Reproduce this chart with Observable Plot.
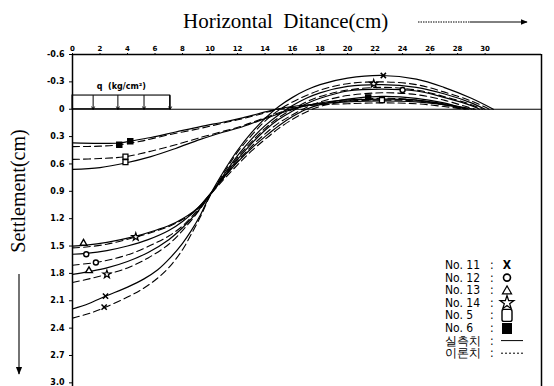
<!DOCTYPE html>
<html><head><meta charset="utf-8">
<script src="https://cdn.jsdelivr.net/npm/d3@7"></script>
<script src="https://cdn.jsdelivr.net/npm/@observablehq/plot@0.6"></script>
<style>body{margin:0;background:#fff}</style>
</head><body><div id="chart"></div>
<script>
// ---- data (cm) ----
const xTicks = [0,2,4,6,8,10,12,14,16,18,20,22,24,26,28,30];
const yTicks = [-0.6,-0.3,0,0.3,0.6,0.9,1.2,1.5,1.8,2.1,2.4,2.7,3.0];
const xMax = 34.1;

const no11M = [[0,2.19],[1.2,2.13],[2.4,2.05],[4,1.95],[5.2,1.86],[6.2,1.76],[7.1,1.63],[8,1.47],[8.6,1.34],[9.3,1.16],[10,0.94],[11,0.68],[12,0.45],[13,0.26],[14,0.1],[15,-0.03],[16,-0.13],[17,-0.21],[18,-0.27],[20,-0.34],[22.5,-0.37],[25,-0.33],[27,-0.24],[29,-0.12],[30.6,0]];
const no11T = [[0,2.29],[1.2,2.24],[2.4,2.17],[4,2.06],[5.2,1.96],[6.2,1.85],[7.1,1.72],[8,1.54],[8.6,1.38],[9.3,1.18],[10,0.95],[11,0.70],[12,0.47],[13,0.29],[14,0.13],[15,0.01],[16,-0.08],[17,-0.15],[18,-0.21],[20,-0.28],[22.5,-0.30],[25,-0.27],[27,-0.19],[29,-0.09],[30.3,0]];
const no14M = [[0,1.81],[1.2,1.78],[2.5,1.74],[4,1.67],[5.5,1.57],[7,1.43],[8,1.3],[9,1.14],[10,0.94],[11,0.72],[12,0.51],[13,0.33],[14,0.18],[15,0.06],[16,-0.04],[17,-0.12],[18,-0.18],[20,-0.25],[22.5,-0.27],[25,-0.24],[27,-0.17],[29,-0.07],[30,0]];
const no14T = [[0,1.90],[1.2,1.86],[2.5,1.81],[4,1.74],[5.5,1.63],[7,1.48],[8,1.33],[9,1.15],[10,0.94],[11,0.73],[12,0.53],[13,0.36],[14,0.21],[15,0.09],[16,0],[17,-0.08],[18,-0.14],[20,-0.21],[22.5,-0.24],[25,-0.21],[27,-0.14],[29,-0.05],[29.8,0]];
const no12M = [[0,1.59],[1,1.58],[2.5,1.55],[4,1.5],[5.5,1.43],[7,1.33],[8,1.23],[9,1.1],[10,0.93],[11,0.74],[12,0.55],[13,0.38],[14,0.23],[15,0.11],[16,0.02],[17,-0.06],[18,-0.12],[20,-0.2],[22.5,-0.22],[25,-0.2],[27,-0.13],[29,-0.04],[29.6,0]];
const no12T = [[0,1.71],[1.7,1.68],[3,1.64],[4.5,1.57],[6,1.47],[7,1.39],[8,1.28],[9,1.12],[10,0.94],[11,0.75],[12,0.57],[13,0.41],[14,0.27],[15,0.15],[16,0.06],[17,-0.02],[18,-0.08],[20,-0.15],[22.5,-0.18],[25,-0.16],[27,-0.1],[28.8,-0.02],[29.3,0]];
const no13M = [[0,1.50],[1,1.49],[2.5,1.46],[4.4,1.4],[6,1.33],[7.1,1.27],[8,1.2],[8.8,1.12],[9.4,1.04],[10,0.93],[11,0.75],[12,0.58],[13,0.43],[14,0.3],[15,0.18],[16,0.08],[17,0],[18,-0.05],[20,-0.11],[22.5,-0.14],[25,-0.12],[27,-0.07],[28.6,0]];
const no13T = [[0,1.52],[1,1.51],[2.5,1.48],[4.4,1.41],[6,1.34],[7.1,1.28],[8,1.21],[8.8,1.13],[9.4,1.05],[10,0.94],[11,0.77],[12,0.61],[13,0.46],[14,0.33],[15,0.21],[16,0.11],[17,0.03],[18,-0.03],[20,-0.09],[22.5,-0.12],[25,-0.1],[27,-0.05],[28.4,0]];
const no6M = [[0,0.37],[2,0.375],[3.4,0.37],[4.2,0.35],[5.7,0.31],[7.5,0.25],[9.3,0.19],[11,0.14],[12.2,0.1],[13.5,0.05],[14.8,0],[16,-0.03],[18,-0.06],[20,-0.08],[22.5,-0.09],[25,-0.08],[27,-0.05],[28.8,0]];
const no6T = [[0,0.41],[2,0.405],[3.4,0.39],[5,0.35],[7,0.28],[9.3,0.21],[11,0.15],[12.2,0.11],[13.5,0.06],[15,0],[16,-0.02],[18,-0.05],[20,-0.06],[22.5,-0.07],[25,-0.06],[27,-0.03],[28.5,0]];
const no5T = [[0,0.55],[2,0.54],[3.85,0.52],[5.7,0.46],[7.5,0.39],[9.3,0.31],[11,0.24],[12.2,0.19],[13.5,0.12],[14.8,0.05],[15.8,0],[17,-0.04],[19,-0.08],[22.5,-0.1],[25,-0.09],[27,-0.05],[29,0]];
const no5M = [[0,0.66],[2,0.64],[3.85,0.59],[5.7,0.52],[7.5,0.43],[9.3,0.33],[11,0.25],[12.2,0.2],[13.5,0.13],[14.8,0.06],[16,0],[17,-0.04],[19,-0.09],[22.5,-0.11],[25,-0.1],[27,-0.06],[29.2,0]];

const measured = [no11M,no14M,no12M,no13M,no6M,no5M];
const theory = [no11T,no14T,no12T,no13T,no6T,no5T];

const markX = [[2.4,2.05],[2.3,2.17],[22.6,-0.37]];
const markO = [[1.0,1.59],[1.7,1.68],[24,-0.21]];
const markTri = [[0.8,1.47],[1.2,1.77]];
const markStar = [[2.5,1.81],[21.9,-0.28],[4.6,1.4]];
const markOpenSq = [[3.85,0.52],[3.85,0.58],[22.5,-0.1]];
const markFillSq = [[3.4,0.39],[4.2,0.35],[21.5,-0.13]];

const loadEdges = [0,1.5,3.3,5.2,7.1];
const loadQ = 0.15;

const fmt = d => d === 0 ? "0" : d.toFixed(1);

const marks = [
  Plot.ruleY([0], {stroke:"black", strokeWidth:1.2}),
  Plot.ruleY([yTicks[0]], {stroke:"black", strokeWidth:1.5}),
  Plot.ruleX([0, xMax], {stroke:"black", strokeWidth:1.5}),
  Plot.rect([loadEdges], {x1: d=>d[0], x2: d=>d[d.length-1], y1: -loadQ, y2: 0, fill:"none", stroke:"black", strokeWidth:1.1}),
  Plot.arrow(loadEdges.slice(1), {x: d=>d, y1: -loadQ, y2: 0, stroke:"black", strokeWidth:1, headLength:4}),
  Plot.text([loadEdges], {x: d=>(d[0]+d[d.length-1])/2, y: -loadQ-0.1, text: ()=>"q  (kg/cm²)", fontSize:8, fontWeight:"bold"}),
  ...measured.map(s => Plot.line(s, {x:d=>d[0], y:d=>d[1], curve:"catmull-rom", stroke:"black", strokeWidth:1.2})),
  ...theory.map(s => Plot.line(s, {x:d=>d[0], y:d=>d[1], curve:"catmull-rom", stroke:"black", strokeWidth:1.1, strokeDasharray:"7,4"})),
  Plot.dot(markX, {x:d=>d[0], y:d=>d[1], symbol:"times", r:2.5, stroke:"black", strokeWidth:1.5}),
  Plot.dot(markO, {x:d=>d[0], y:d=>d[1], symbol:"circle", r:2.5, stroke:"black", fill:"white", strokeWidth:1.4}),
  Plot.dot(markTri, {x:d=>d[0], y:d=>d[1], symbol:"triangle", r:2.5, stroke:"black", fill:"white", strokeWidth:1.4}),
  Plot.dot(markStar, {x:d=>d[0], y:d=>d[1], symbol:"star", r:2.5, stroke:"black", fill:"white", strokeWidth:1.2}),
  Plot.dot(markOpenSq, {x:d=>d[0], y:d=>d[1], symbol:"square", r:2.8, stroke:"black", fill:"white", strokeWidth:1.3}),
  Plot.dot(markFillSq, {x:d=>d[0], y:d=>d[1], symbol:"square", r:2.8, stroke:"black", fill:"black"}),
  Plot.axisX({anchor:"top", ticks: xTicks, tickSize:2, tickPadding:2, fontSize:7, fontWeight:"bold", label:null}),
  Plot.axisY({anchor:"left", ticks: yTicks, tickFormat: fmt, tickSize:3, tickPadding:5, fontSize:8, fontWeight:"bold", label:null})
];

const svg = Plot.plot({
  width:554, height:386,
  marginLeft:72, marginRight:13, marginTop:54, marginBottom:0,
  x:{domain:[0, xMax]},
  y:{domain:[-0.6, 3.04], reverse:true},
  style:{background:"white", fontFamily:"DejaVu Sans, sans-serif", color:"black"},
  marks
});

const s = d3.select(svg);
s.style("overflow","visible");
const defs = s.append("defs");
defs.append("marker").attr("id","ah").attr("viewBox","0 0 10 10").attr("refX",9).attr("refY",5)
  .attr("markerWidth",7).attr("markerHeight",7).attr("orient","auto")
  .append("path").attr("d","M0,1 L10,5 L0,9 Z").attr("fill","black");

// title
s.append("text").attr("x",183).attr("y",28).attr("text-anchor","start").attr("font-family","Liberation Serif, serif").attr("font-size",21).attr("fill","black")
  .attr("xml:space","preserve").text("Horizontal  Ditance(cm)");
s.append("line").attr("x1",418).attr("x2",470).attr("y1",22).attr("y2",22).attr("stroke","black").attr("stroke-width",1).attr("stroke-dasharray","1.5,1");
s.append("line").attr("x1",470).attr("x2",527).attr("y1",22).attr("y2",22).attr("stroke","black").attr("stroke-width",1).attr("marker-end","url(#ah)");

// y label
s.append("text").attr("transform","translate(25,191) rotate(-90)").attr("text-anchor","middle")
  .attr("font-family","Liberation Serif, serif").attr("font-size",20).attr("fill","black").text("Settlement(cm)");
s.append("line").attr("x1",19).attr("x2",19).attr("y1",274).attr("y2",374).attr("stroke","black").attr("stroke-width",1.1).attr("marker-end","url(#ah)");

// legend
const legNames = ["No. 11","No. 12","No. 13","No. 14","No. 5","No. 6","실측치","이론치"];
const lg = s.append("g").attr("font-family","DejaVu Sans Condensed, DejaVu Sans, sans-serif").attr("font-size",12).attr("fill","black").attr("text-anchor","start");
legNames.forEach((n,i)=>{
  const y = 269 + i*12.6;
  lg.append("text").attr("x",445).attr("y",y).text(n);
  lg.append("text").attr("x",490).attr("y",y).text(":");
});
const sx = 507;
const ly = i => 265 + i*12.6;
lg.append("text").attr("x",sx).attr("y",ly(0)+4).attr("text-anchor","middle").attr("font-weight","bold").text("X");
lg.append("circle").attr("cx",sx).attr("cy",ly(1)).attr("r",3.5).attr("fill","none").attr("stroke","black").attr("stroke-width",1.6);
lg.append("path").attr("d",d3.symbol(d3.symbolTriangle2,60)()).attr("transform",`translate(${sx},${ly(2)+1})`).attr("fill","none").attr("stroke","black").attr("stroke-width",1.2);
lg.append("path").attr("d",d3.symbol(d3.symbolStar,60)()).attr("transform",`translate(${sx},${ly(3)})`).attr("fill","none").attr("stroke","black").attr("stroke-width",1.2);
lg.append("rect").attr("x",sx-5).attr("y",ly(4)-6).attr("width",10).attr("height",12).attr("rx",2).attr("fill","white").attr("stroke","black").attr("stroke-width",1.4);
lg.append("rect").attr("x",sx-5).attr("y",ly(5)-5).attr("width",10).attr("height",11).attr("fill","black");
lg.append("line").attr("x1",sx-6).attr("x2",sx+16).attr("y1",ly(6)).attr("y2",ly(6)).attr("stroke","black").attr("stroke-width",1);
lg.append("line").attr("x1",sx-6).attr("x2",sx+16).attr("y1",ly(7)).attr("y2",ly(7)).attr("stroke","black").attr("stroke-width",1).attr("stroke-dasharray","2,2");

document.getElementById("chart").appendChild(svg);
</script>
</body></html>
